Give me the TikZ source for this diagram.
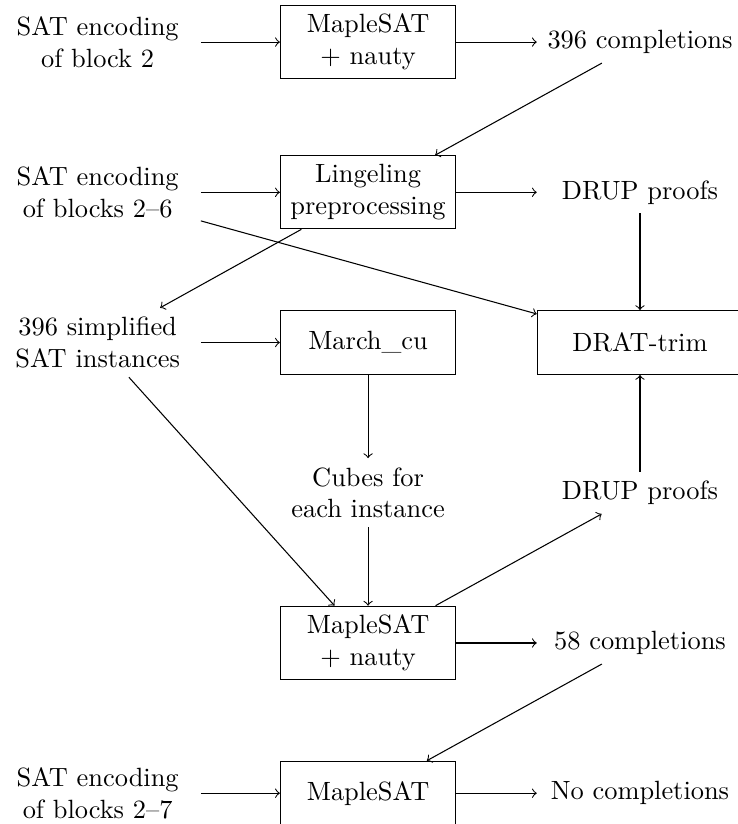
\documentclass[tikz,border=0pt]{standalone}

\begin{document}
\begin{tikzpicture}[every node/.style = {align=center}, >=to]
	\tikzstyle{box} = [draw, text width=2.1cm, minimum height=0.85cm]
	\tikzstyle{wbox} = [draw, text width=2.5cm, minimum height=0.85cm]
	\tikzstyle{txt} = [text width=2.5cm]
	\useasboundingbox (-1.3,0.56) rectangle (8.52,-10.41);
	% left column
	\node[txt] (enc2) at (0,0) {SAT encoding\\of block 2};
	\node[txt] (enc26) at (0,-2) {SAT encoding\\of blocks 2--6};
	\node[txt] (simp) at (0,-4) {396 simplified\\SAT instances};
	\node[txt] (enc27) at (0,-10) {SAT encoding\\of blocks 2--7};
	% middle column
	\node[box] (maple1) at (3.6,0) {MapleSAT\\+ nauty};
	\node[box] (ling) at (3.6,-2) {Lingeling\\preprocessing};
	\node[box] (march) at (3.6,-4) {March\_cu};
	\node[txt] (cubes) at (3.6,-6) {Cubes for\\each instance};
	\node[box] (maple2) at (3.6,-8) {MapleSAT\\+ nauty};
	\node[box] (maple3) at (3.6,-10) {MapleSAT};
	% right column
	\node[txt] (comp396) at (7.22,0) {396 completions};
	\node[txt] (drup1) at (7.22,-2) {DRUP proofs};
	\node[wbox] (drat) at (7.22,-4) {DRAT-trim};
	\node[txt] (drup2) at (7.22,-6) {DRUP proofs};
	\node[txt] (comp58) at (7.22,-8) {58 completions};
	\node[txt] (none) at (7.22,-10) {No completions};
	% connectors
	\draw[->] (enc2) -- (maple1);
	\draw[->] (maple1) -- (comp396);
	\draw[->] (comp396) -- (ling);
	\draw[->] (enc26) -- (ling);
	\draw[->] (ling) -- (drup1);
	\draw[->] (enc26) -- (drat);
	\draw[->] (ling) -- (simp);
	\draw[->] (drup1) -- (drat);
	\draw[->] (simp) -- (march);
	\draw[->] (march) -- (cubes);
	\draw[->] (simp) -- (maple2);
	\draw[->] (cubes) -- (maple2);
	\draw[->] (maple2) -- (drup2);
	\draw[->] (drup2) -- (drat);
	\draw[->] (maple2) -- (comp58);
	\draw[->] (comp58) -- (maple3);
	\draw[->] (enc27) -- (maple3);
	\draw[->] (maple3) -- (none);
\end{tikzpicture}
\end{document}
